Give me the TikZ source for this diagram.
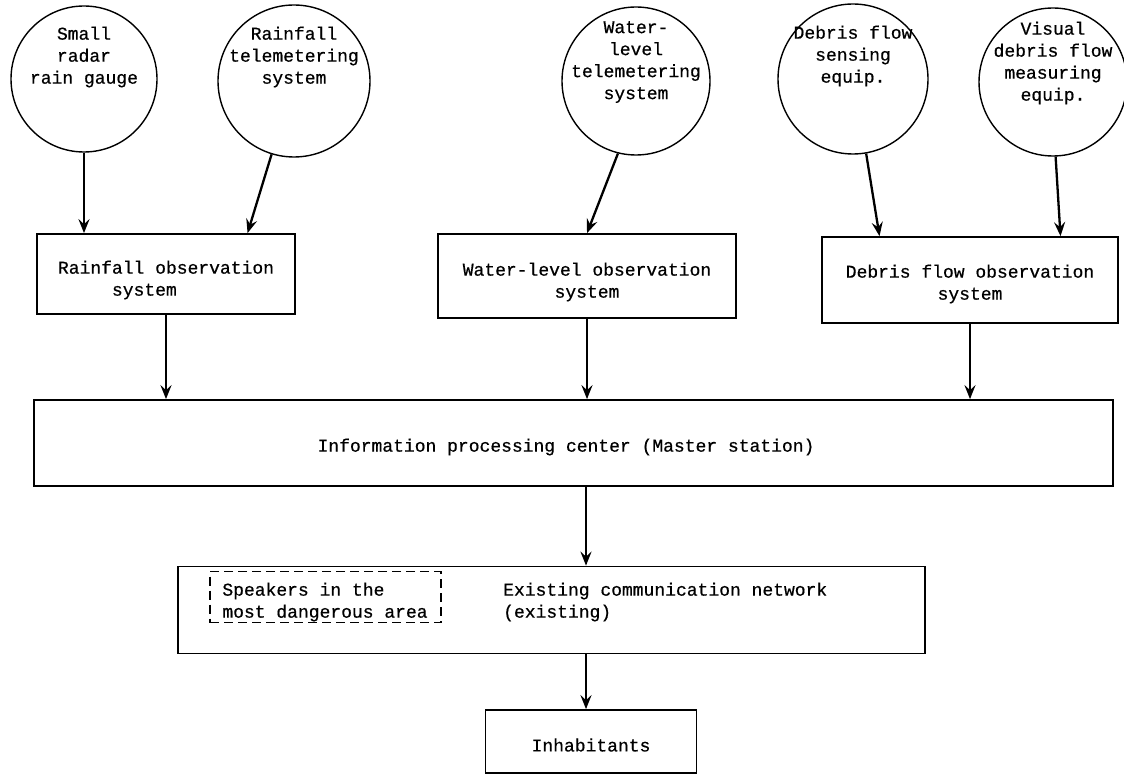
\documentclass[tikz,border=0pt]{standalone}
\usepackage{fontspec}
\setmonofont{Liberation Mono}[FakeBold=0.6]
\usetikzlibrary{arrows.meta,calc}
\begin{document}
\begin{tikzpicture}[x=1pt,y=-1pt,
  every node/.style={font=\ttfamily\fontsize{18}{22}\selectfont},
  src/.style={circle,draw,line width=1.4pt,inner sep=0pt},
  lbl/.style={align=center,inner sep=0pt},
  sysbox/.style={draw,line width=1.7pt,rectangle,inner sep=0pt},
  dashbox/.style={draw,line width=1.3pt,dash pattern=on 9pt off 5pt,rectangle,inner sep=0pt},
  flow/.style={line width=2.3pt,-{Stealth[length=14pt,width=11pt,inset=5pt]}},
]
\useasboundingbox (0,0) rectangle (1124,775);

% measuring and telemetering devices
\node[src,minimum size=146] (c1) at (84,79) {};
\node[lbl] (c1t) at (84,57) {Small\\radar\\rain gauge};
\node[src,minimum size=152] (c2) at (294,81) {};
\node[lbl] (c2t) at (294,57) {Rainfall\\telemetering\\system};
\node[src,minimum size=148] (c3) at (636,81) {};
\node[lbl] (c3t) at (636,62) {Water-\\level\\telemetering\\system};
\node[src,minimum size=150] (c4) at (853,79) {};
\node[lbl] (c4t) at (853,56) {Debris flow\\sensing\\equip.};
\node[src,minimum size=148] (c5) at (1053,82) {};
\node[lbl] (c5t) at (1053,63) {Visual\\debris flow\\measuring\\equip.};

% observation systems
\node[sysbox,minimum width=258,minimum height=80] (b1) at (166,274) {};
\node[align=left,inner sep=0pt] (b1t) at (166,280) {Rainfall observation\\\hspace*{3em}system};
\node[sysbox,minimum width=298,minimum height=84] (b2) at (587,276) {};
\node[lbl] (b2t) at (587,282) {Water-level observation\\system};
\node[sysbox,minimum width=296,minimum height=86] (b3) at (970,280) {};
\node[lbl] (b3t) at (970,284) {Debris flow observation\\system};

% master station
\node[sysbox,minimum width=1079,minimum height=86] (ctr) at (573.5,443) {};
\node[inner sep=0pt] (ctrt) at (566,447) {Information processing center (Master station)};

% communication network
\node[sysbox,minimum width=747,minimum height=87] (net) at (551.5,610) {};
\node[dashbox,minimum width=231,minimum height=51] (spk) at (325.5,597) {};
\node[align=left,inner sep=0pt] (spkt) at (325,602) {Speakers in the\\most dangerous area};
\node[align=left,inner sep=0pt,anchor=west] (nett) at (503,602) {Existing communication network\\(existing)};

% receivers
\node[sysbox,minimum width=211,minimum height=63] (inh) at (591,741.5) {};
\node[inner sep=0pt] (inht) at (591,745) {Inhabitants};

\coordinate (spine) at (586,0);

% connectors
\draw[flow] (c1.south) -- (c1.south |- b1.north);
\draw[flow] (c2.253) -- ($(b1.north west)!0.814!(b1.north east)$);
\draw[flow] (c3.256) -- (b2.north);
\draw[flow] (c4.280) -- ($(b3.north west)!0.196!(b3.north east)$);
\draw[flow] (c5.272) -- ($(b3.north west)!0.804!(b3.north east)$);
\draw[flow] (b1.south) -- (b1.south |- ctr.north);
\draw[flow] (b2.south) -- (b2.south |- ctr.north);
\draw[flow] (b3.south) -- (b3.south |- ctr.north);
\draw[flow] (ctr.south -| spine) -- (net.north -| spine);
\draw[flow] (net.south -| spine) -- (inh.north -| spine);
\end{tikzpicture}
\end{document}
